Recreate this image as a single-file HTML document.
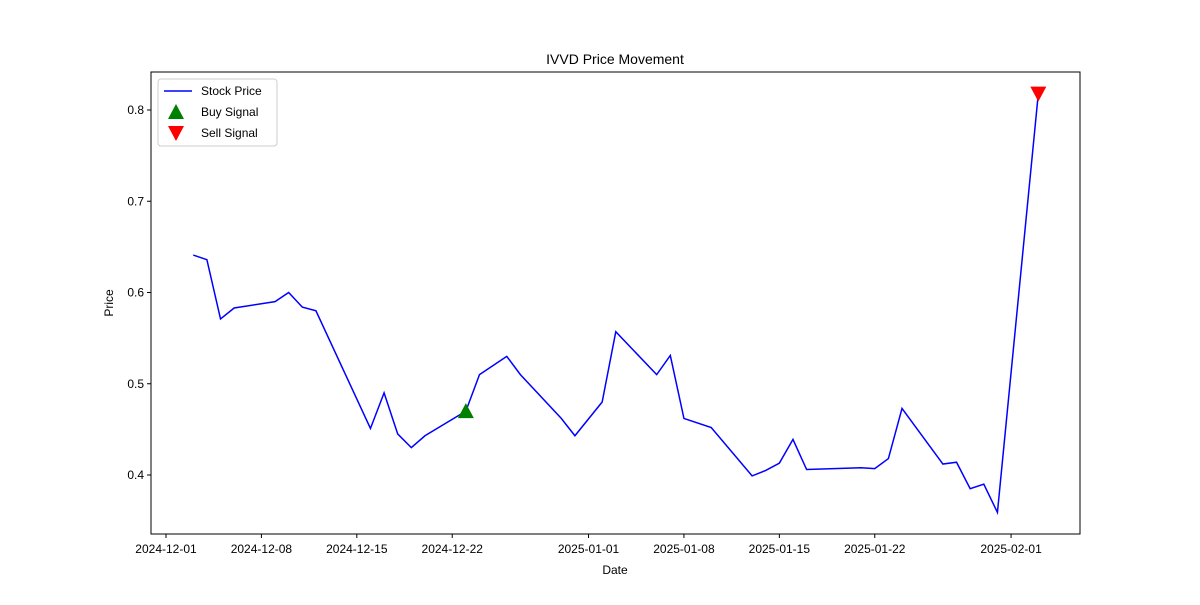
<!DOCTYPE html>
<html><head><meta charset="utf-8"><style>
body{margin:0;background:#fff;font-family:"Liberation Sans",Arial,sans-serif}
</style></head><body>
<svg id="chart" width="1200" height="600" xmlns="http://www.w3.org/2000/svg"></svg>
<script>
const dayOffsets=[2,3,4,5,8,9,10,11,15,16,17,18,19,22,23,25,26,29,30,32,33,36,37,38,40,43,44,45,46,47,51,52,53,54,57,58,59,60,61,64];
const prices=[0.641,0.636,0.571,0.583,0.590,0.600,0.584,0.580,0.451,0.490,0.445,0.430,0.443,0.470,0.510,0.530,0.510,0.462,0.443,0.480,0.557,0.510,0.531,0.462,0.452,0.399,0.405,0.413,0.439,0.406,0.408,0.407,0.418,0.473,0.412,0.414,0.385,0.390,0.359,0.818];
const buyDays=[22];const buyPrices=[0.470];
const sellDays=[64];const sellPrices=[0.818];
const xTickDays=[0,7,14,21,31,38,45,52,62];
const xTickLabels=["2024-12-01","2024-12-08","2024-12-15","2024-12-22","2025-01-01","2025-01-08","2025-01-15","2025-01-22","2025-02-01"];
const yTicks=[0.4,0.5,0.6,0.7,0.8];

const L=151,R=1080,T=72,B=534;
const x=d=>166+d*13.63;
const y=v=>475-(v-0.4)*912.5;
const svg=document.getElementById('chart');
const NS="http://www.w3.org/2000/svg";
function mk(tag,attrs,parent){const e=document.createElementNS(NS,tag);for(const k in attrs)e.setAttribute(k,attrs[k]);(parent||svg).appendChild(e);return e;}

const frame=mk('rect',{x:L,y:T,width:R-L,height:B-T,fill:'none',stroke:'#000','stroke-width':1});



xTickDays.forEach((d,i)=>{
  const g=mk('g',{});
  
  
  mk('line',{x1:x(d),x2:x(d),y1:B,y2:B+4,stroke:'#000'},g);
  const t=mk('text',{x:x(d),y:B+19,'text-anchor':'middle','font-size':12},g);t.textContent=xTickLabels[i];
});
yTicks.forEach(v=>{
  const g=mk('g',{});
  
  
  mk('line',{x1:L-4,x2:L,y1:y(v),y2:y(v),stroke:'#000'},g);
  const t=mk('text',{x:L-7,y:y(v)+4,'text-anchor':'end','font-size':12},g);t.textContent=v.toFixed(1);
});
const title=mk('text',{x:615,y:64,'text-anchor':'middle','font-size':14});title.textContent='IVVD Price Movement';


const xl=mk('text',{x:615,y:574,'text-anchor':'middle','font-size':12});xl.textContent='Date';


const yl=mk('text',{x:113,y:303,'text-anchor':'middle','font-size':12,transform:'rotate(-90 113 303)'});yl.textContent='Price';



const line=mk('polyline',{points:dayOffsets.map((d,i)=>x(d)+','+y(prices[i])).join(' '),fill:'none',stroke:'#0000ff','stroke-width':1.5});



buyDays.forEach((d,i)=>{const cx=x(d),cy=y(buyPrices[i]);
  const p=mk('polygon',{points:`${cx},${cy-8} ${cx-8},${cy+7} ${cx+8},${cy+7}`,fill:'green'});
  
  });
sellDays.forEach((d,i)=>{const cx=x(d),cy=y(sellPrices[i]);
  const p=mk('polygon',{points:`${cx},${cy+8} ${cx-8},${cy-7} ${cx+8},${cy-7}`,fill:'red'});
  
  });

const lg=mk('g',{});


mk('rect',{x:158,y:79,width:119,height:67,rx:3,fill:'#fff',stroke:'#ccc'},lg);
mk('line',{x1:164,x2:192,y1:91,y2:91,stroke:'#0000ff','stroke-width':1.5},lg);
mk('polygon',{points:'176,104 168,119 184,119',fill:'green'},lg);
mk('polygon',{points:'176,141 168,126 184,126',fill:'red'},lg);
[['Stock Price',95],['Buy Signal',116],['Sell Signal',137]].forEach(([s,yy])=>{
  const t=mk('text',{x:201,y:yy,'font-size':12},lg);t.textContent=s;
  
  
});
</script>
</body></html>
